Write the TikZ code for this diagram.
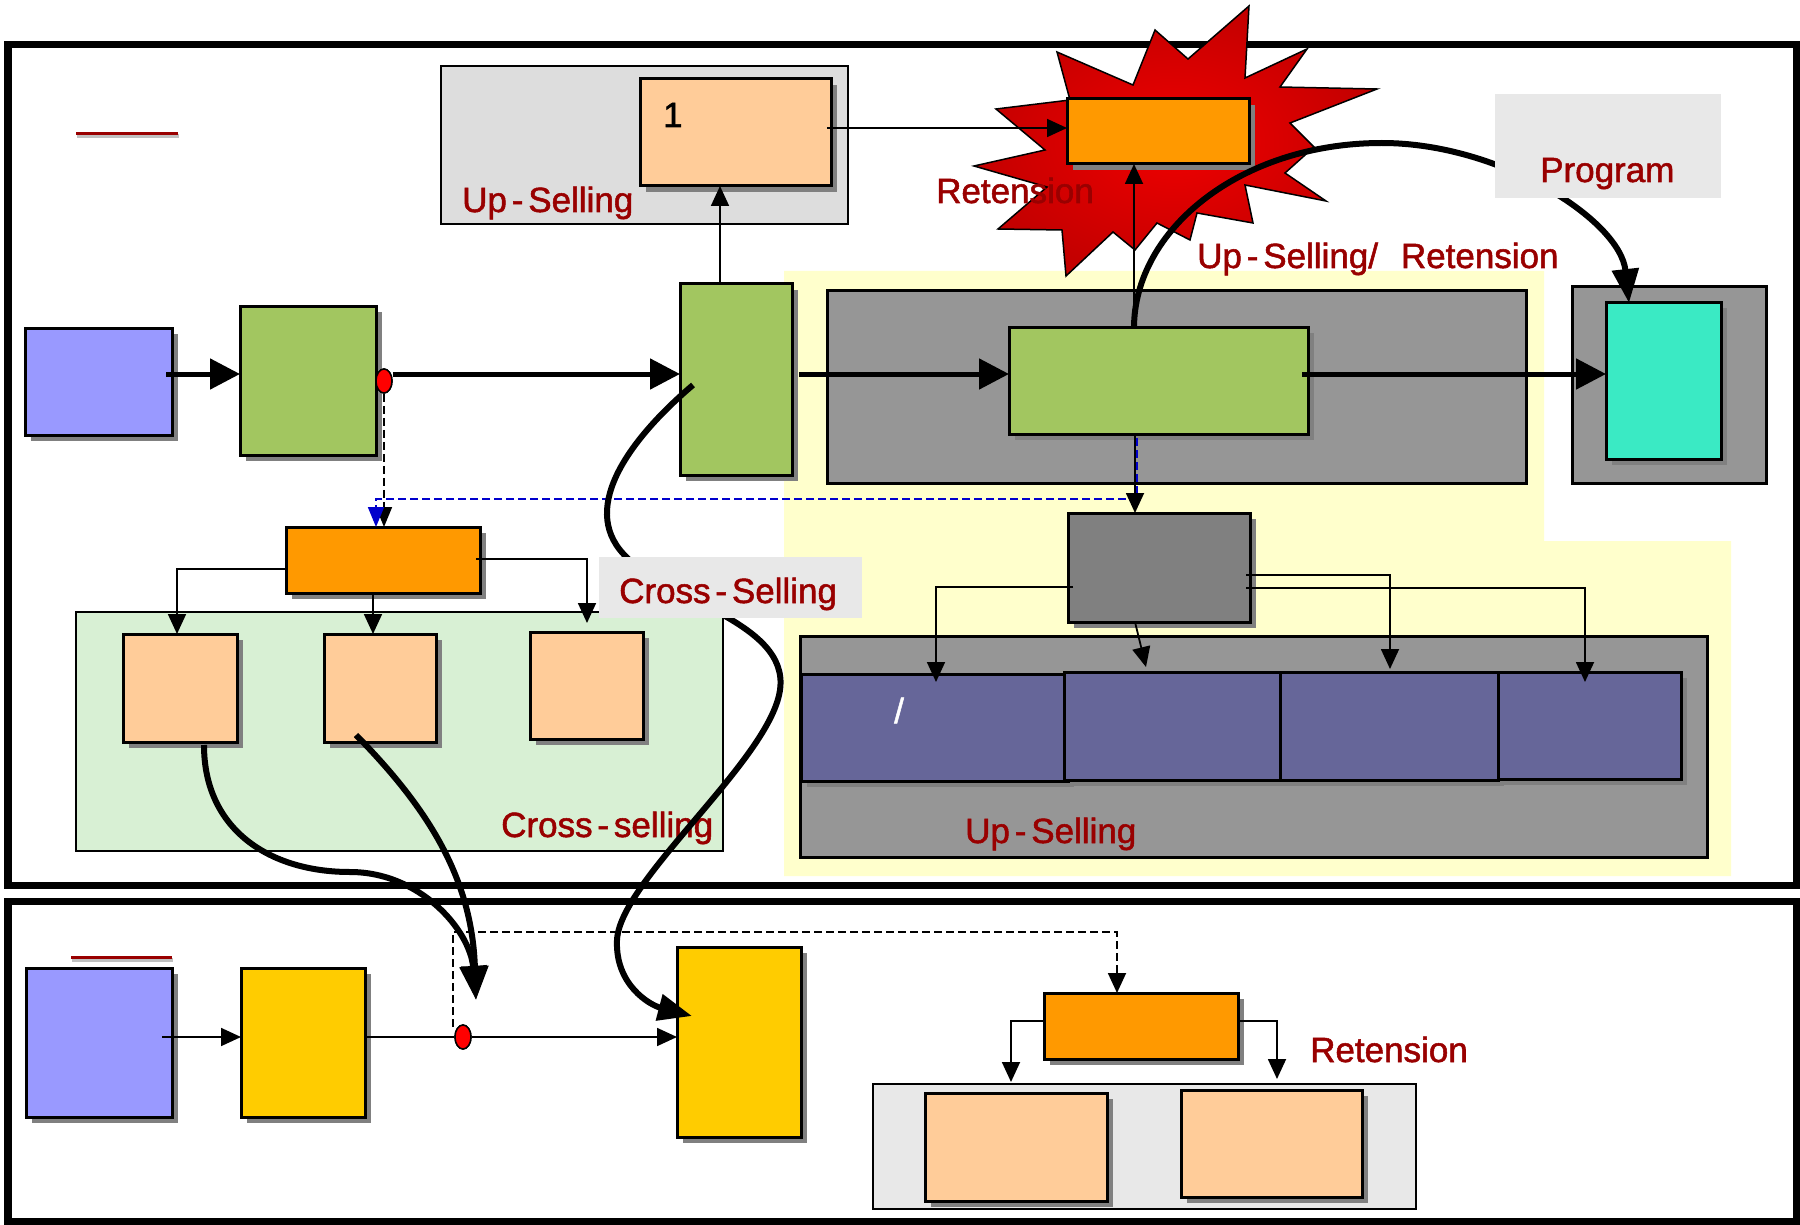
\documentclass[tikz,border=0pt]{standalone}
\usepackage{fontspec}
\setmainfont{Liberation Sans}
\newfontfamily\lblfont{Liberation Sans}[FakeBold=1.5, WordSpace=0.5]
\usetikzlibrary{arrows.meta,calc,fit,shadows,shapes.geometric}
\definecolor{darkred}{HTML}{990000}
\definecolor{shadowgray}{HTML}{808080}
\definecolor{bluebox}{HTML}{9999FF}
\definecolor{greenbox}{HTML}{A2C660}
\definecolor{peach}{HTML}{FFCC99}
\definecolor{orangebox}{HTML}{FF9900}
\definecolor{yellowbox}{HTML}{FFCC00}
\definecolor{tealbox}{HTML}{3AEAC4}
\definecolor{greybig}{HTML}{969696}
\definecolor{greymid}{HTML}{808080}
\definecolor{purplebox}{HTML}{666699}
\definecolor{lblgray}{HTML}{E8E8E8}
\definecolor{topgray}{HTML}{DDDDDD}
\definecolor{greenbg}{HTML}{D8F0D4}
\definecolor{yellowbg}{HTML}{FFFFCC}
\definecolor{dashblue}{HTML}{0000CC}
\definecolor{starlight}{HTML}{F00000}
\definecolor{stardark}{HTML}{C40000}
\tikzset{
  shbox/.style={draw=black, line width=3pt, inner sep=0pt, outer sep=0pt,
    drop shadow={shadow xshift=6pt, shadow yshift=-6pt, fill=shadowgray, opacity=1, draw=none}},
  cont/.style={draw=black, line width=2.2pt, inner sep=0pt, outer sep=0pt},
  lblbox/.style={fill=lblgray, draw=none, inner sep=0pt, outer sep=0pt},
  txt/.style={font=\lblfont\fontsize{35pt}{40pt}\selectfont, text=darkred, inner sep=0pt, anchor=base west},
  thinline/.style={line width=1.8pt, draw=black},
  thinarrow/.style={thinline, -{Triangle[length=20pt,width=18pt]}},
  thickarrow/.style={line width=5pt, -{Triangle[length=30pt,width=30pt]}},
  curvearrow/.style={line width=6pt, -{Triangle[length=34pt,width=26pt]}},
  dashblack/.style={line width=1.8pt, dash pattern=on 8pt off 4pt},
  reddot/.style={ellipse, draw=black, line width=1.5pt, fill=red, minimum width=16pt, minimum height=24pt, inner sep=0pt},
  frameline/.style={line width=7.5pt, draw=black},
}
\begin{document}
\begin{tikzpicture}[x=1pt,y=-1pt]
\useasboundingbox (0,0) rectangle (1800,1225);
\fill[white] (0,0) rectangle (1800,1225);

% frames
\draw[frameline] (8,44.5) rectangle (1796.5,885.5);
\draw[frameline] (8,901.5) rectangle (1796.5,1221.5);

% background areas
\fill[yellowbg] (784,271) -- (1544,271) -- (1544,541) -- (1731,541) -- (1731,876) -- (784,876) -- cycle;
\node[cont, fill=greenbg, line width=1.6pt, fit={(76,612)(723,851)}] (greenArea) {};
\node[cont, fill=topgray, fit={(441,66)(848,224)}] (topCont) {};
\node[cont, fill=lblgray, fit={(873,1084)(1416,1209)}] (botCont) {};
\node[cont, fill=greybig, line width=3pt, fit={(827,291)(1526,483)}] (bigGrey) {};
\node[cont, fill=greybig, line width=3pt, fit={(1572,287)(1766,483)}] (tealCont) {};
\node[cont, fill=greybig, line width=3pt, fit={(800,636)(1707,857)}] (upCont) {};

% starburst
\shadedraw[inner color=starlight, outer color=stardark, draw=black, line width=1.5pt]
 (1249,6) -- (1245,78) -- (1307,49) -- (1280,87) -- (1377,89) -- (1290,123) -- (1314,147)
 -- (1285,173) -- (1326,201) -- (1245,185) -- (1253,223) -- (1197,213) -- (1190,240)
 -- (1157,223) -- (1135,250) -- (1113,232) -- (1066,276) -- (1062,230) -- (998,229)
 -- (1047,187) -- (974,166) -- (1045,150) -- (996,109) -- (1070,100) -- (1057,52)
 -- (1133,85) -- (1155,30) -- (1188,59) -- cycle;

% boxes
\node[shbox, fill=bluebox, fit={(25,328)(172,435)}] (blueA) {};
\node[shbox, fill=greenbox, fit={(240,306)(376,455)}] (greenA) {};
\node[shbox, fill=greenbox, fit={(680,284)(792,475)}] (greenB) {};
\node[shbox, fill=greenbox, fit={(1009,327)(1308,434)}] (greenC) {};
\node[shbox, fill=tealbox, fit={(1606,302)(1721,459)}] (teal) {};
\node[shbox, fill=peach, fit={(640,79)(831,186)}] (peachTop) {};
\node[shbox, fill=orangebox, fit={(1067,99)(1249,164)}] (orangeTop) {};
\node[shbox, fill=orangebox, fit={(286,527)(480,593)}] (orangeMid) {};
\node[shbox, fill=peach, fit={(123,634)(237,742)}] (P1) {};
\node[shbox, fill=peach, fit={(324,634)(436,742)}] (P2) {};
\node[shbox, fill=peach, fit={(530,632)(643,739)}] (P3) {};
\node[shbox, fill=greymid, fit={(1068,513)(1250,622)}] (greyMid) {};
\node[shbox, fill=purplebox, fit={(801,674)(1068,781)}] (U1) {};
\node[shbox, fill=purplebox, fit={(1064,672)(1280,780)}] (U2) {};
\node[shbox, fill=purplebox, fit={(1280,672)(1498,780)}] (U3) {};
\node[shbox, fill=purplebox, fit={(1498,672)(1681,779)}] (U4) {};
\node[shbox, fill=bluebox, fit={(26,968)(172,1117)}] (blueB) {};
\node[shbox, fill=yellowbox, fit={(241,968)(365,1117)}] (yelA) {};
\node[shbox, fill=yellowbox, fit={(677,947)(801,1137)}] (yelB) {};
\node[shbox, fill=orangebox, fit={(1044,993)(1238,1059)}] (orangeBot) {};
\node[shbox, fill=peach, fit={(925,1093)(1107,1201)}] (peachB1) {};
\node[shbox, fill=peach, fit={(1181,1090)(1362,1197)}] (peachB2) {};

% title underlines
\draw[line width=3.5pt, shadowgray!50] (77,136) -- (179,136);
\draw[line width=3.5pt, darkred] (76,133.5) -- (178,133.5);
\draw[line width=3.5pt, shadowgray!50] (72,960) -- (173,960);
\draw[line width=3.5pt, darkred] (71,957.5) -- (172,957.5);

% dots
\node[reddot] (dot1) at (384,381) {};
\node[reddot] (dot2) at (463,1037) {};

% dashed connectors
\draw[dashblack, -{Triangle[length=20pt,width=16pt]}] (dot1.south) -- (dot1.south |- orangeMid.north);
\draw[dashblack, dashblue, -{Triangle[length=20pt,width=16pt]}] ($(greenC.south)+(-21.5,4)$) -- ++(0,61) -| ($(orangeMid.north)+(-7,0)$);
\draw[dashblack, -{Triangle[length=20pt,width=18pt]}] ($(dot2.center)+(-10,-10)$) -- ++(0,-95) -| ($(orangeBot.north)+(-24,0)$);

% thin arrows
\draw[thinarrow] ($(greenB.north)+(-16,0)$) -- ($(peachTop.south)+(-15.5,0)$);
\draw[thinarrow] ($(peachTop.east)+(-4,-4.5)$) -- ($(orangeTop.west)+(0,-3.5)$);
\draw[thinarrow] ($(greenC.north)+(-24.5,0)$) -- ($(orangeTop.south)+(-24,0)$);
\draw[thinarrow] ($(greenC.south)+(-23.5,0)$) -- ($(greyMid.north)+(-24,0)$);
\draw[thinarrow] ($(greyMid.west)+(5,19.5)$) -| ($(U1.north)+(1.5,8)$);
\draw[thinarrow] ($(greyMid.south)+(-24,0)$) -- ($(U2.north)+(-26,-5)$);
\draw[thinarrow] ($(greyMid.east)+(-4,7.5)$) -| ($(U3.north)+(1,-3)$);
\draw[thinarrow] ($(greyMid.east)+(-4,20.5)$) -| ($(U4.north)+(-4.5,10)$);
\draw[thinarrow] ($(orangeMid.west)+(0,9)$) -| ($(P1.north)+(-3,0)$);
\draw[thinarrow] ($(orangeMid.south)+(-10,0)$) -- ($(P2.north)+(-7,0)$);
\draw[thinarrow] ($(orangeMid.east)+(-4,-1)$) -| ($(P3.north)+(0.5,-9)$);
\draw[thinarrow] ($(orangeBot.west)+(0,-5)$) -| ($(peachB1.north)+(-5,-11)$);
\draw[thinarrow] ($(orangeBot.east)+(0,-5)$) -| ($(peachB2.north)+(5.5,-11)$);
\draw[thinarrow] ($(blueB.east)+(-10,-5.5)$) -- ($(yelA.west)+(0,-5.5)$);
\draw[thinline] ($(yelA.east)+(0,-5.5)$) -- (dot2.west);
\draw[thinarrow] (dot2.east) -- (dot2.east -| yelB.west);
\node[reddot] (dot2b) at (dot2) {};

% thick arrows
\draw[thickarrow] ($(blueA.east)+(-6,-7.5)$) -- ($(greenA.west)+(0,-6.5)$);
\draw[thickarrow] ($(dot1.east)+(0,-7)$) -- ($(greenB.west)+(0,-5.5)$);
\draw[thickarrow] ($(greenB.east)+(7,-5.5)$) -- ($(greenC.west)+(0,-6.5)$);
\draw[thickarrow] ($(greenC.east)+(-6,-6.5)$) -- ($(teal.west)+(0,-6.5)$);
\node[reddot] (dot1b) at (dot1) {};

% texts
\node[txt] (tUp1) at (462,212) {Up - Selling};
\node[txt] (tRet1) at (936,203) {Retension};
\node[txt] (tUpRet) at (1197,268) {Up - Selling/ \hspace{18pt}Retension};
\node[txt] (tCross2) at (501,837) {Cross - selling};
\node[txt] (tUp2) at (965,843) {Up - Selling};
\node[txt] (tRet2) at (1310,1062) {Retension};
\node[txt, text=black] (tOne) at (663,127) {1};
\node[txt, text=white] (tSlash) at (894,723) {/};

% thick curves
\coordinate (merge) at (476,1000);
\draw[curvearrow] ($(greenC.north)+(-24.5,1)$) .. controls (1134,230) and (1240,143) .. (1382,143)
  .. controls (1500,143) and (1620,220) .. ($(teal.north)+(-34.5,1)$);
\draw[curvearrow] ($(greenB.center)+(-43,5.5)$) .. controls (640,430) and (580,500) .. (620,550)
  .. controls (660,600) and (790,620) .. (780,690)
  .. controls (770,760) and (620,880) .. (617,940)
  .. controls (615,985) and (650,1005) .. ($(yelB.west)+(15,-26)$);
\draw[curvearrow] ($(P1.south)+(24,3)$) .. controls (204,830) and (270,872) .. (350,872)
  .. controls (420,872) and (470,930) .. (merge);
\draw[curvearrow] ($(P2.center)+(-24,47)$) .. controls (430,810) and (472,880) .. (merge);

% label boxes on top
\node[lblbox, fit={(1495,94)(1721,198)}] (progLbl) {};
\node[txt] (tProg) at (1540,182) {Program};
\node[lblbox, fit={(599,557)(862,618)}] (crossLbl) {};
\node[txt] (tCross1) at (619,603) {Cross - Selling};
\end{tikzpicture}
\end{document}
